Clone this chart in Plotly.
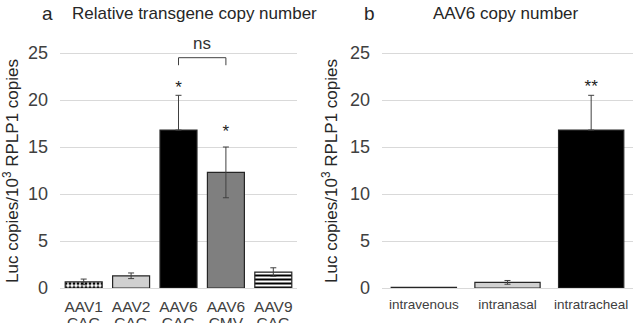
import plotly.graph_objects as go

# Panel a data
serotypes_a = ["AAV1", "AAV2", "AAV6", "AAV6", "AAV9"]
promoters_a = ["CAG", "CAG", "CAG", "CMV", "CAG"]
vals_a = [0.65, 1.3, 16.8, 12.3, 1.7]
err_a = [0.3, 0.3, 3.7, 2.7, 0.45]
err_a_minus = [0.3, 0.3, 0.0, 2.7, 0.45]   # lower whisker hidden inside black bar
stars_a = ["", "", "*", "*", ""]
star_y_a = [None, None, 21.25, 16.55, None]

# Panel b data
cats_b = ["intravenous", "intranasal", "intratracheal"]
vals_b = [0.08, 0.6, 16.8]
err_b = [0.0, 0.2, 3.7]
err_b_minus = [0.0, 0.2, 0.0]
stars_b = ["", "", "**"]
star_y_b = [None, None, 21.35]

yticks = [0, 5, 10, 15, 20, 25]

W, H = 637, 323
def fx(px):
    return px / W
def fy(py):
    return (H - py) / H

FONT = "Liberation Sans, Arial, sans-serif"
fig = go.Figure()

idx_a = list(range(len(serotypes_a)))
colors_a = ["white", "#d0d0d0", "black", "#7f7f7f", "white"]
patterns_a = [dict(shape=".", fgcolor="black", bgcolor="white", size=4, solidity=0.45, fillmode="replace"),
              None, None, None,
              dict(shape="-", fgcolor="black", bgcolor="white", size=4, solidity=0.5, fillmode="replace")]
for i in idx_a:
    fig.add_trace(go.Bar(
        x=[i], y=[vals_a[i]], xaxis="x", yaxis="y", width=0.78,
        marker=dict(color=colors_a[i], line=dict(color="#262626", width=1.2),
                    pattern=patterns_a[i]),
        error_y=dict(type="data", symmetric=False, array=[err_a[i]], arrayminus=[err_a_minus[i]],
                     color="#404040", thickness=1, width=3),
        showlegend=False))

# invisible helper trace so the overlaid promoter-label axis is drawn
fig.add_trace(go.Scatter(x=idx_a, y=vals_a, xaxis="x3", yaxis="y", mode="markers",
                         marker=dict(opacity=0), showlegend=False, hoverinfo="skip"))

idx_b = list(range(len(cats_b)))
colors_b = ["black", "#d0d0d0", "black"]
for i in idx_b:
    fig.add_trace(go.Bar(
        x=[i], y=[vals_b[i]], xaxis="x2", yaxis="y2", width=0.78,
        marker=dict(color=colors_b[i], line=dict(color="#262626", width=1.2)),
        error_y=dict(type="data", symmetric=False, array=[err_b[i]], arrayminus=[err_b_minus[i]],
                     color="#404040", thickness=1, width=3, visible=err_b[i] > 0),
        showlegend=False))

# stars
sx = [i for i, s in zip(idx_a, stars_a) if s]
sy = [y for y, s in zip(star_y_a, stars_a) if s]
st = [s for s in stars_a if s]
fig.add_trace(go.Scatter(x=sx, y=sy, text=st, mode="text", xaxis="x", yaxis="y",
                         textfont=dict(family=FONT, size=17, color="#222"), showlegend=False,
                         cliponaxis=False, hoverinfo="skip"))
sx = [i for i, s in zip(idx_b, stars_b) if s]
sy = [y for y, s in zip(star_y_b, stars_b) if s]
st = [s for s in stars_b if s]
fig.add_trace(go.Scatter(x=sx, y=sy, text=st, mode="text", xaxis="x2", yaxis="y2",
                         textfont=dict(family=FONT, size=17, color="#222"), showlegend=False,
                         cliponaxis=False, hoverinfo="skip"))

# ns bracket between AAV6 CAG and AAV6 CMV
fig.add_trace(go.Scatter(x=[2, 2, 3, 3], y=[23.7, 24.5, 24.5, 23.7],
                         mode="lines", line=dict(color="#404040", width=1), xaxis="x", yaxis="y",
                         showlegend=False, hoverinfo="skip"))
fig.add_annotation(x=2.5, y=26.0, xref="x", yref="y", text="ns", showarrow=False,
                   font=dict(family=FONT, size=17, color="#333333"))

axis_font = dict(family=FONT, size=18, color="#404040")
yax = dict(range=[0, 27.5], tickvals=yticks, showgrid=True, gridcolor="#d9d9d9", gridwidth=1,
           zeroline=True, zerolinecolor="#d9d9d9", zerolinewidth=1, showline=False,
           tickfont=axis_font, ticks="", ticklabelstandoff=11, domain=[fy(288), fy(29.5)],
           fixedrange=True, automargin=False)
xfont_a = dict(family=FONT, size=15.5, color="#404040")
fig.update_layout(
    width=W, height=H, margin=dict(l=0, r=0, t=0, b=0, autoexpand=False),
    paper_bgcolor="white", plot_bgcolor="white",
    font=dict(family=FONT, color="#333"),
    xaxis=dict(domain=[fx(60), fx(297)], range=[-0.5, 4.5], tickmode="array",
               tickvals=idx_a, ticktext=serotypes_a, showgrid=False, zeroline=False,
               tickfont=xfont_a, automargin=False,
               showline=False, ticks="", ticklabelstandoff=7),
    xaxis3=dict(overlaying="x", anchor="y", side="bottom", range=[-0.5, 4.5], tickmode="array",
                tickvals=idx_a, ticktext=promoters_a, showgrid=False, zeroline=False,
                tickfont=xfont_a, automargin=False,
                showline=False, ticks="", ticklabelstandoff=23),
    yaxis=dict(anchor="x", **yax),
    xaxis2=dict(domain=[fx(382), fx(633)], range=[-0.5, 2.5], anchor="y2", tickmode="array",
                tickvals=idx_b, ticktext=cats_b, showgrid=False, zeroline=False,
                tickfont=dict(family=FONT, size=13.5, color="#404040"), automargin=False,
                showline=False, ticks="", ticklabelstandoff=6),
    yaxis2=dict(anchor="x2", **yax),
)

ytitle = "Luc copies/10<sup>3</sup> RPLP1 copies"
for xp in [11, 330]:
    fig.add_annotation(x=fx(xp), y=fy(171), xref="paper", yref="paper", text=ytitle,
                       textangle=-90, showarrow=False, font=dict(family=FONT, size=17, color="#262626"),
                       xanchor="center", yanchor="middle")

title_font = dict(family=FONT, size=17, color="#262626")
fig.add_annotation(x=fx(40), y=fy(13), xref="paper", yref="paper", text="a", showarrow=False,
                   xanchor="left", yanchor="middle", font=dict(family=FONT, size=19, color="#262626"))
fig.add_annotation(x=fx(70), y=fy(13), xref="paper", yref="paper", text="Relative transgene copy number",
                   showarrow=False, xanchor="left", yanchor="middle", font=title_font)
fig.add_annotation(x=fx(362), y=fy(13), xref="paper", yref="paper", text="b", showarrow=False,
                   xanchor="left", yanchor="middle", font=dict(family=FONT, size=19, color="#262626"))
fig.add_annotation(x=fx(506), y=fy(13), xref="paper", yref="paper", text="AAV6 copy number",
                   showarrow=False, xanchor="center", yanchor="middle", font=title_font)

fig.write_html("out.html")
